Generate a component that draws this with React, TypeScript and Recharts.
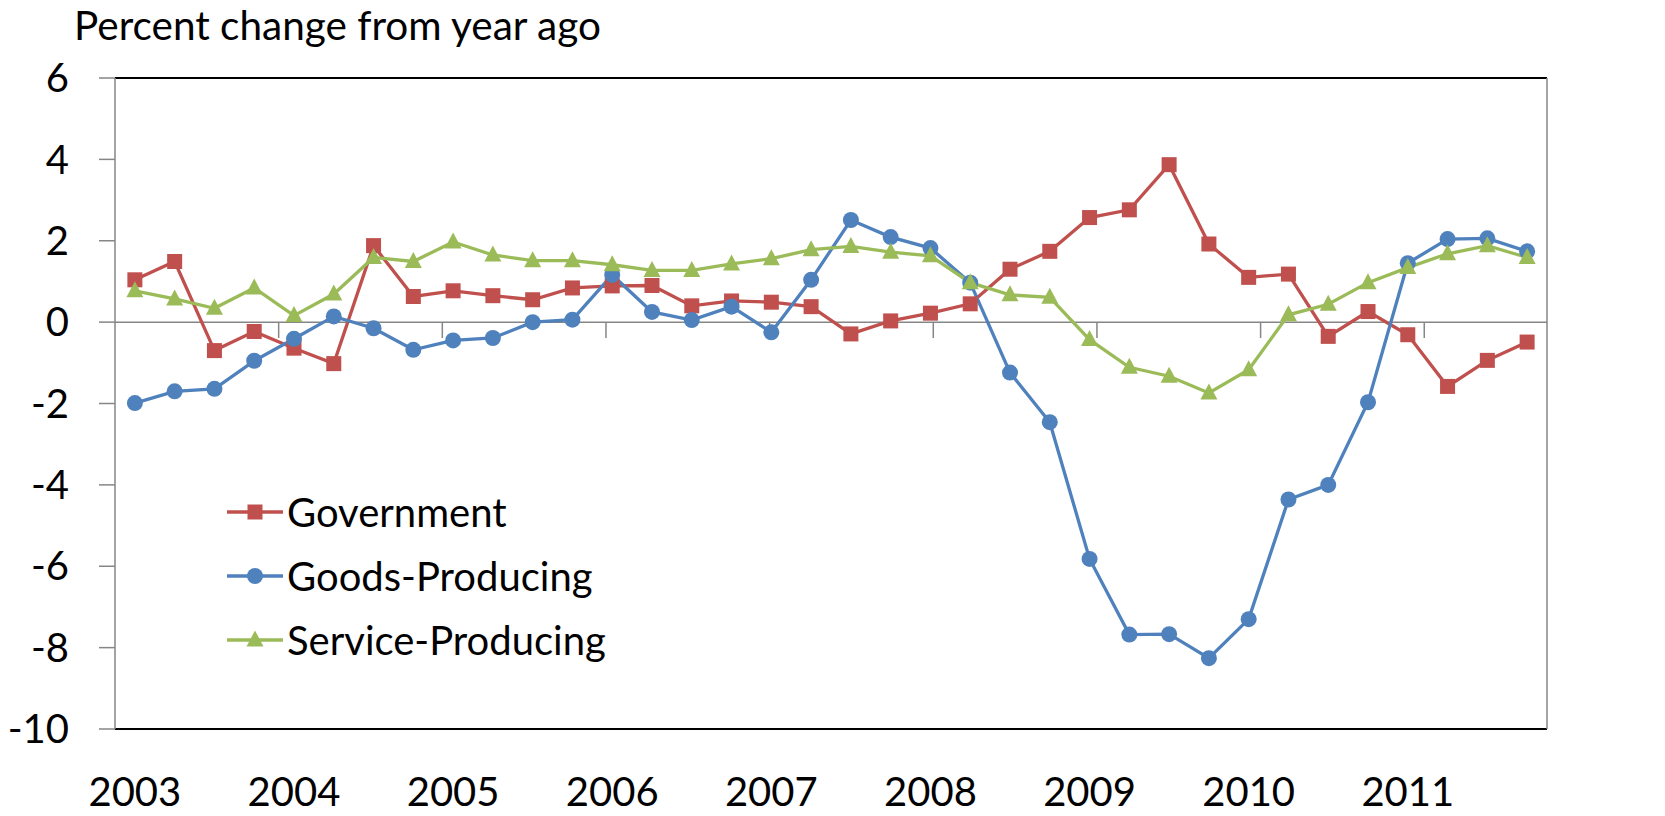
import React from 'react';
import { LineChart, Line, XAxis, YAxis, ReferenceLine, Legend } from 'recharts';

const FONT = 'Lato, "Open Sans", sans-serif';

const years = ['2003', '2004', '2005', '2006', '2007', '2008', '2009', '2010', '2011'];
const quarterNames = ['Q1', 'Q2', 'Q3', 'Q4'];
const quarters = years.flatMap((y) => quarterNames.map((q) => `${y} ${q}`));

const government = [
  1.04, 1.49, -0.7, -0.23, -0.64, -1.02, 1.88, 0.63, 0.77, 0.65, 0.55, 0.84,
  0.89, 0.9, 0.4, 0.52, 0.49, 0.38, -0.29, 0.03, 0.22, 0.45, 1.3, 1.74,
  2.57, 2.76, 3.87, 1.92, 1.1, 1.18, -0.35, 0.26, -0.31, -1.58, -0.94, -0.49,
];
const goods = [
  -1.99, -1.7, -1.64, -0.95, -0.41, 0.14, -0.15, -0.68, -0.45, -0.39, 0.0, 0.06,
  1.16, 0.25, 0.05, 0.38, -0.25, 1.04, 2.51, 2.09, 1.82, 0.97, -1.24, -2.46,
  -5.82, -7.68, -7.67, -8.26, -7.3, -4.36, -4.0, -1.97, 1.45, 2.04, 2.06, 1.74,
];
const service = [
  0.77, 0.57, 0.34, 0.84, 0.16, 0.69, 1.59, 1.49, 1.97, 1.65, 1.51, 1.51,
  1.41, 1.27, 1.27, 1.43, 1.56, 1.78, 1.86, 1.72, 1.63, 0.97, 0.67, 0.61,
  -0.43, -1.11, -1.33, -1.74, -1.17, 0.18, 0.44, 0.97, 1.34, 1.68, 1.88, 1.59,
];

const yTicks = [-10, -8, -6, -4, -2, 0, 2, 4, 6];
const yearBoundaries = [4, 8, 12, 16, 20, 24, 28, 32];

const COLORS = { government: '#C0504D', goods: '#4F81BD', service: '#9BBB59' };
const AXIS_GRAY = '#868686';

const data = quarters.map((q, i) => ({
  q,
  government: government[i],
  goods: goods[i],
  service: service[i],
}));

type MarkerKind = 'square' | 'circle' | 'triangle';

const Marker = ({ kind, cx, cy, color }: { kind: MarkerKind; cx: number; cy: number; color: string }) => {
  if (kind === 'square') {
    return <rect x={cx - 7.5} y={cy - 7.5} width={15} height={15} fill={color} />;
  }
  if (kind === 'circle') {
    return <circle cx={cx} cy={cy} r={8} fill={color} />;
  }
  return (
    <polygon
      points={`${cx},${cy - 9.5} ${cx + 8.5},${cy + 6.5} ${cx - 8.5},${cy + 6.5}`}
      fill={color}
    />
  );
};

const makeDot = (kind: MarkerKind, color: string) => (props: any) => {
  const { cx, cy, index } = props;
  if (cx == null || cy == null) return <g key={`e-${index}`} />;
  return (
    <g key={`${kind}-${index}`}>
      <Marker kind={kind} cx={cx} cy={cy} color={color} />
    </g>
  );
};

const legendItems: { name: string; color: string; kind: MarkerKind }[] = [
  { name: 'Government', color: COLORS.government, kind: 'square' },
  { name: 'Goods-Producing', color: COLORS.goods, kind: 'circle' },
  { name: 'Service-Producing', color: COLORS.service, kind: 'triangle' },
];

const renderLegend = () => (
  <div style={{ fontFamily: FONT, fontSize: 40, color: '#000' }}>
    {legendItems.map((it) => (
      <div key={it.name} style={{ display: 'flex', alignItems: 'center', height: 64 }}>
        <svg width={56} height={22} style={{ display: 'block' }}>
          <line x1={0} y1={11} x2={56} y2={11} stroke={it.color} strokeWidth={3.3} />
          <Marker kind={it.kind} cx={28} cy={11} color={it.color} />
        </svg>
        <span style={{ marginLeft: 4, whiteSpace: 'nowrap' }}>{it.name}</span>
      </div>
    ))}
  </div>
);

const tickStyle = { fontFamily: FONT, fontSize: 40, fill: '#000' };

export default function App() {
  return (
    <div style={{ position: 'absolute', left: 0, top: 0, width: 1665, height: 816, background: '#fff' }}>
      <div
        style={{
          position: 'absolute',
          left: 74,
          top: 1,
          fontFamily: FONT,
          fontSize: 40.5,
          lineHeight: '48px',
          color: '#000',
          whiteSpace: 'nowrap',
        }}
      >
        Percent change from year ago
      </div>
      <LineChart
        width={1665}
        height={816}
        data={data}
        margin={{ top: 78, right: 0, bottom: 0, left: 0 }}
      >
        <XAxis
          xAxisId="cat"
          dataKey="q"
          type="category"
          interval={3}
          padding={{ left: 19.88, right: 19.88 }}
          height={87}
          tickLine={false}
          axisLine={false}
          tickSize={0}
          tickMargin={49}
          tick={tickStyle}
          tickFormatter={(v: string) => v.slice(0, 4)}
        />
        <XAxis xAxisId="n" type="number" domain={[0, 36]} hide />
        <YAxis
          yAxisId="left"
          domain={[-10, 6]}
          ticks={yTicks}
          interval={0}
          width={115}
          tickSize={16}
          tickMargin={30}
          tick={tickStyle}
          axisLine={{ stroke: AXIS_GRAY, strokeWidth: 1.5 }}
          tickLine={{ stroke: AXIS_GRAY, strokeWidth: 1.5 }}
        />
        <YAxis
          yAxisId="right"
          orientation="right"
          domain={[-10, 6]}
          ticks={yTicks}
          interval={0}
          width={118}
          tickSize={16}
          tickMargin={30}
          tick={tickStyle}
          axisLine={{ stroke: AXIS_GRAY, strokeWidth: 1.5 }}
          tickLine={{ stroke: AXIS_GRAY, strokeWidth: 1.5 }}
        />
        <ReferenceLine yAxisId="left" xAxisId="cat" y={0} stroke={AXIS_GRAY} strokeWidth={1.5} />
        <ReferenceLine yAxisId="left" xAxisId="cat" y={6} stroke="#000" strokeWidth={2} />
        <ReferenceLine yAxisId="left" xAxisId="cat" y={-10} stroke="#000" strokeWidth={2} />
        {yearBoundaries.map((b) => (
          <ReferenceLine
            key={`tb-${b}`}
            yAxisId="left"
            xAxisId="n"
            segment={[
              { x: b, y: 0 },
              { x: b, y: -0.39 },
            ]}
            stroke={AXIS_GRAY}
            strokeWidth={1.5}
          />
        ))}
        <Line
          xAxisId="cat"
          yAxisId="left"
          type="linear"
          dataKey="government"
          name="Government"
          stroke={COLORS.government}
          strokeWidth={3.3}
          dot={makeDot('square', COLORS.government)}
          activeDot={false}
          isAnimationActive={false}
        />
        <Line
          xAxisId="cat"
          yAxisId="left"
          type="linear"
          dataKey="goods"
          name="Goods-Producing"
          stroke={COLORS.goods}
          strokeWidth={3.3}
          dot={makeDot('circle', COLORS.goods)}
          activeDot={false}
          isAnimationActive={false}
        />
        <Line
          xAxisId="cat"
          yAxisId="left"
          type="linear"
          dataKey="service"
          name="Service-Producing"
          stroke={COLORS.service}
          strokeWidth={3.3}
          dot={makeDot('triangle', COLORS.service)}
          activeDot={false}
          isAnimationActive={false}
        />
        <Legend
          layout="vertical"
          align="center"
          verticalAlign="middle"
          content={renderLegend}
          wrapperStyle={{ left: 227, top: 480, width: 'auto' }}
        />
      </LineChart>
    </div>
  );
}
